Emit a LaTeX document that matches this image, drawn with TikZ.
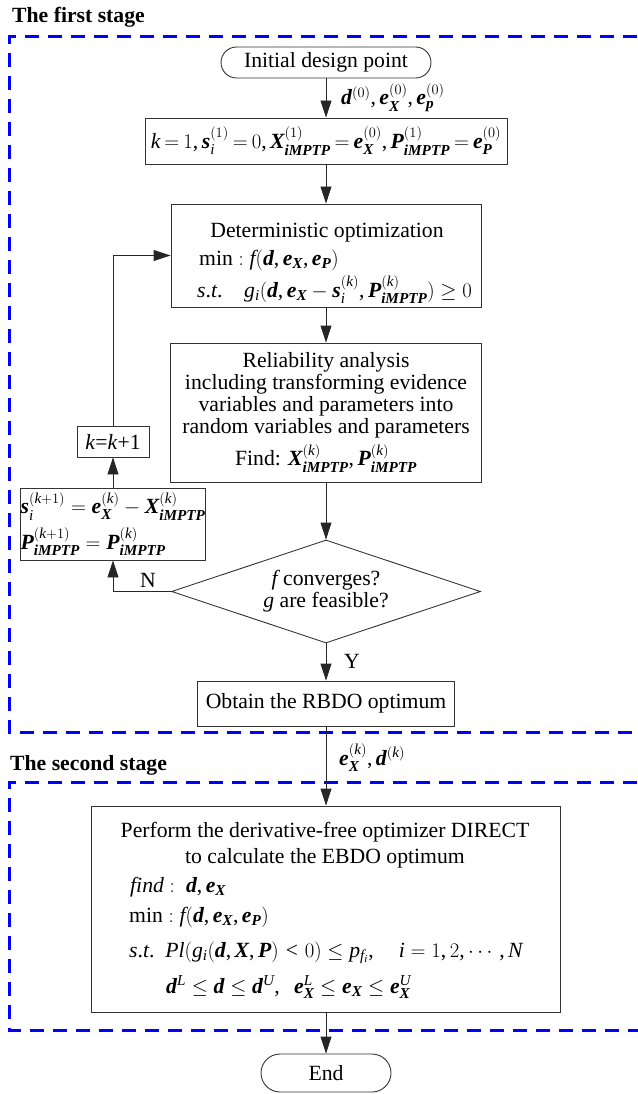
\documentclass[tikz,border=0pt]{standalone}
\usepackage{amsmath}
\usepackage{fontspec}
\setmainfont{Liberation Serif}
\newfontfamily\mathlet{Liberation Serif}[NFSSFamily=libser]
\DeclareSymbolFont{operators}{TU}{libser}{m}{n}
\SetSymbolFont{operators}{bold}{TU}{libser}{b}{n}
\DeclareSymbolFont{letters}{TU}{libser}{m}{it}
\SetSymbolFont{letters}{bold}{TU}{libser}{b}{it}
\mathcode`\,="602C
\mathcode`\.="002E
\usepackage{bm}
\usetikzlibrary{arrows.meta,shapes.geometric,positioning}

\begin{document}
\begin{tikzpicture}[x=1pt,y=-1pt,font=\fontsize{21.7}{22}\selectfont,
  box/.style={draw=black!80,line width=0.9pt,inner sep=0pt},
  lbl/.style={anchor=base west,inner sep=0pt},
  txt/.style={anchor=base,inner sep=0pt},
  arr/.style={draw=black!85,line width=0.9pt,-{Triangle[length=17pt,width=11pt]}},
  stageframe/.style={draw=blue,line width=3pt,dash pattern=on 14pt off 9pt},
  stagetitle/.style={anchor=base west,inner sep=0pt,font=\fontsize{21.7}{22}\selectfont\bfseries}]
  \useasboundingbox (0,0) rectangle (637,1094);
  \draw[stageframe] (660,37) -- (9,37) -- (9,732) -- (660,732);
  \draw[stageframe] (660,782) -- (9,782) -- (9,1030) -- (660,1030);
  \node[stagetitle] (first) at (12,23) {The first stage};
  \node[stagetitle] (second) at (10,770) {The second stage};

  \node[box,minimum width=210pt,minimum height=31pt,rounded corners=15.5pt] (init) at (326,62.5) {Initial design point};
  \node[box,minimum width=362pt,minimum height=46pt] (kset) at (326,141)
    {\thickmuskip=3.5mu plus 2mu$k=1,\bm{s}_i^{(1)}=0,\bm{X}_{\bm{iMPTP}}^{(1)}=\bm{e}_{\bm{X}}^{(0)},\bm{P}_{\bm{iMPTP}}^{(1)}=\bm{e}_{\bm{P}}^{(0)}$};
  \node[box,minimum width=310pt,minimum height=103pt] (detopt) at (326,255.5) {};
  \node[txt] (dettitle) at (327,237) {Deterministic optimization};
  \node[lbl] (detmin) at (199,265) {$\min: f(\bm{d},\bm{e}_{\bm{X}},\bm{e}_{\bm{P}})$};
  \node[lbl] (detst) at (197,297) {$s.t.\quad g_i(\bm{d},\bm{e}_{\bm{X}}-\bm{s}_i^{(k)},\bm{P}_{\bm{iMPTP}}^{(k)})\ge 0$};
  \node[box,minimum width=311pt,minimum height=139pt,align=center] (relan) at (326,412.5)
    {Reliability analysis\\including transforming evidence\\variables and parameters into\\random variables and parameters\\[5pt]
     Find: $\bm{X}_{\bm{iMPTP}}^{(k)},\bm{P}_{\bm{iMPTP}}^{(k)}$};
  \node[box,diamond,aspect=3,minimum width=309pt,minimum height=103pt,align=center] (conv) at (326,591.5)
    {$f$ converges?\\$g$ are feasible?};
  \node[box,minimum width=257pt,minimum height=45pt] (rbdo) at (326,703.5) {Obtain the RBDO optimum};
  \node[box,minimum width=180pt,minimum height=72pt,align=left] (upd) at (113,524)
    {$\bm{s}_i^{(k+1)}=\bm{e}_{\bm{X}}^{(k)}-\bm{X}_{\bm{iMPTP}}^{(k)}$\\[6pt]$\bm{P}_{\bm{iMPTP}}^{(k+1)}=\bm{P}_{\bm{iMPTP}}^{(k)}$};
  \node[box,minimum width=72pt,minimum height=31pt] (kinc) at (113,441.5) {\textit{k}=\textit{k}+1};

  \node[box,minimum width=469pt,minimum height=206pt] (ebdo) at (326,909) {};
  \node[txt] (ebdoa) at (325,837) {Perform the derivative-free optimizer DIRECT};
  \node[txt] (ebdob) at (325,863) {to calculate the EBDO optimum};
  \node[lbl] (ebdofind) at (130,892) {$\mathit{find}:\ \bm{d},\bm{e}_{\bm{X}}$};
  \node[lbl] (ebdomin) at (129,922) {$\min: f(\bm{d},\bm{e}_{\bm{X}},\bm{e}_{\bm{P}})$};
  \node[lbl] (ebdost) at (129,957) {$s.t.\ \ \mathit{Pl}(g_i(\bm{d},\bm{X},\bm{P})<0)\le p_{f_i},\quad i=1,2,\cdots,N$};
  \node[lbl] (ebdobnd) at (166,993) {$\bm{d}^L\le\bm{d}\le\bm{d}^U,\ \ \bm{e}_{\bm{X}}^L\le\bm{e}_{\bm{X}}\le\bm{e}_{\bm{X}}^U$};
  \node[box,minimum width=130pt,minimum height=38pt,rounded corners=19pt] (finish) at (326,1073) {End};

  \draw[arr] (init) -- (kset);
  \node[lbl] (lblinit) at (341,105) {$\bm{d}^{(0)},\bm{e}_{\bm{X}}^{(0)},\bm{e}_{\bm{p}}^{(0)}$};
  \draw[arr] (kset) -- (detopt);
  \draw[arr] (detopt) -- (relan);
  \draw[arr] (relan) -- (conv);
  \draw[arr] (conv) -- (rbdo);
  \node[txt] (yes) at (352,668) {Y};
  \draw[arr] (rbdo) -- (ebdo);
  \node[lbl] (lblrbdo) at (339,765) {$\bm{e}_{\bm{X}}^{(k)},\bm{d}^{(k)}$};
  \draw[arr] (ebdo) -- (finish);
  \draw[arr] (conv.west) -| (upd.south);
  \node[txt] (no) at (148,587) {N};
  \draw[arr] (upd) -- (kinc);
  \draw[arr] (kinc.north) |- (detopt.west);
\end{tikzpicture}
\end{document}
